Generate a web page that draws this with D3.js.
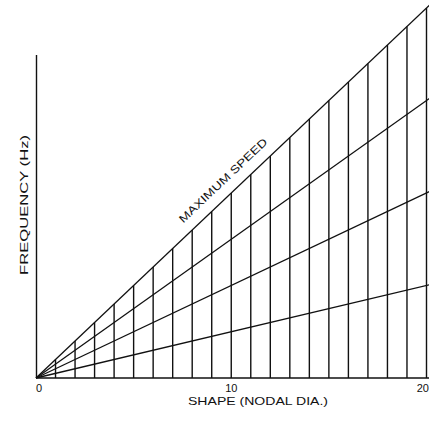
<!DOCTYPE html>
<html><head><meta charset="utf-8">
<script src="https://cdn.jsdelivr.net/npm/d3@7/dist/d3.min.js"></script>
<style>body{margin:0;background:#fff}svg{display:block}text{font-family:"Liberation Sans",Arial,sans-serif;fill:#111}</style>
</head><body>
<script>
// Data
const nodalDiameters = d3.range(1, 21);          // vertical lines at each nodal diameter
const speedFractions = [0.25, 0.5, 0.75, 1.0];   // engine-order lines (fraction of maximum speed)
const xTickValues = [0, 10, 20];
const xTickLabels = ["0", "10", "20"];
const xTitle = "SHAPE (NODAL DIA.)";
const yTitle = "FREQUENCY (Hz)";
const maxLabel = "MAXIMUM SPEED";
const xDomain = [0, 20];
const yDomain = [0, 20.43];
const yAxisTop = 17.46;
const lineEnd = 20.3;

const W = 429, H = 425;
const svg = d3.select("body").append("svg").attr("width", W).attr("height", H);
const x = d3.scaleLinear().domain(xDomain).range([36, 426.5]);
const y = d3.scaleLinear().domain(yDomain).range([378, 0]);
const ink = "#111";

// x baseline
svg.append("line").attr("x1", x(0)).attr("x2", W).attr("y1", y(0)).attr("y2", y(0))
  .attr("stroke", ink).attr("stroke-width", 1.4);
// y axis line
svg.append("line").attr("x1", x(0) + 0.5).attr("x2", x(0) + 0.5).attr("y1", y(0)).attr("y2", y(yAxisTop))
  .attr("stroke", ink).attr("stroke-width", 1.4);

// vertical lines up to maximum speed line
const maxFrac = d3.max(speedFractions);
svg.append("g").selectAll("line").data(nodalDiameters).join("line")
  .attr("x1", d => x(d)).attr("x2", d => x(d))
  .attr("y1", y(0)).attr("y2", d => y(d * maxFrac))
  .attr("stroke", ink).attr("stroke-width", 1.4);

// fan lines
svg.append("g").selectAll("line").data(speedFractions).join("line")
  .attr("x1", x(0)).attr("y1", y(0))
  .attr("x2", x(lineEnd)).attr("y2", d => y(lineEnd * d))
  .attr("stroke", ink).attr("stroke-width", 1.3);

// tick labels
svg.append("g").selectAll("text").data(xTickValues).join("text")
  .attr("x", (d, i) => i === 0 ? x(d) + 3 : (i === xTickValues.length - 1 ? W : x(d)))
  .attr("y", 392)
  .attr("text-anchor", (d, i) => i === xTickValues.length - 1 ? "end" : "middle")
  .attr("font-size", 11)
  .text((d, i) => xTickLabels[i]);

// axis titles
svg.append("text").attr("x", 258).attr("y", 405).attr("text-anchor", "middle")
  .attr("font-size", 11).attr("textLength", 140).attr("lengthAdjust", "spacingAndGlyphs")
  .text(xTitle);
svg.append("text").attr("transform", "translate(28,205) rotate(-90)").attr("text-anchor", "middle")
  .attr("font-size", 11).attr("textLength", 140).attr("lengthAdjust", "spacingAndGlyphs")
  .text(yTitle);

// maximum speed label along top line
const p0 = [x(0), y(0)], p1 = [x(10), y(10 * maxFrac)];
const ang = Math.atan2(p1[1] - p0[1], p1[0] - p0[0]) * 180 / Math.PI;
const nMid = 10.1;
const mx = x(nMid), my = y(nMid * maxFrac);
svg.append("text")
  .attr("transform", `translate(${mx},${my}) rotate(${ang}) translate(0,-11)`)
  .attr("text-anchor", "middle").attr("font-size", 11)
  .attr("textLength", 117).attr("lengthAdjust", "spacingAndGlyphs")
  .text(maxLabel);
</script>
</body></html>
